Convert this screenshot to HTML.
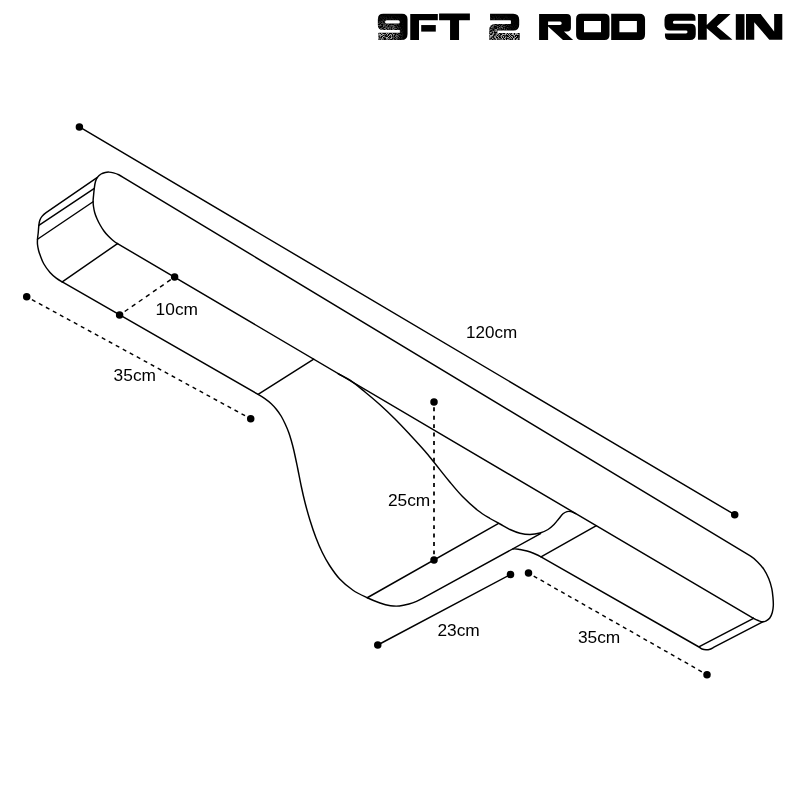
<!DOCTYPE html>
<html>
<head>
<meta charset="utf-8">
<title>9FT 2 ROD SKIN</title>
<style>
html,body{margin:0;padding:0;background:#fff;}
body{width:800px;height:800px;overflow:hidden;font-family:"Liberation Sans",sans-serif;}
svg{display:block;}
.l{fill:none;stroke:#000;stroke-width:1.45;stroke-linecap:round;stroke-linejoin:round;}
.d{fill:none;stroke:#000;stroke-width:1.45;stroke-dasharray:4.3 4.1;}
.t{font-family:"Liberation Sans",sans-serif;font-size:16.6px;fill:#000;}
</style>
</head>
<body>
<svg width="800" height="800" viewBox="0 0 800 800">
<defs><filter id="gray" x="0" y="0" width="800" height="800" filterUnits="userSpaceOnUse" color-interpolation-filters="sRGB"><feColorMatrix type="saturate" values="0"/></filter></defs>
<rect width="800" height="800" fill="#fff"/>
<!-- title -->
<g id="title" fill="#000">
<!-- 9 -->
<path id="g9" fill-rule="evenodd" d="M383.3 13.75H402Q407.55 13.75 407.55 19.3V34Q407.55 40 401.5 40H378.9Q378.3 40 378.3 39.4V33.4Q378.3 32.8 378.9 32.8H399.85V30.1H382.8Q377.85 30.1 377.85 25.1V19.2Q377.85 13.75 383.3 13.75ZM386.6 20.35Q385 20.35 385 21.9Q385 23.5 386.6 23.5H398.3Q399.85 23.5 399.85 21.9Q399.85 20.35 398.3 20.35Z"/>
<!-- F -->
<path d="M410.25 14.1H437.8V20.3H419V39.9H410.25Z"/>
<path d="M421.2 25.05H435.8V31.6H421.2Z"/>
<!-- T -->
<path d="M439.1 13.6H469.9V20.3H459.05V39.9H450.05V20.3H439.1Z"/>
<!-- 2 -->
<path id="g2" d="M490.05 13.85H513.2Q519.2 13.85 519.2 19.85V24.8Q519.2 30.6 513.4 30.6H497.5V33.1H519.75V40H489.2V30Q489.2 24 495.2 24H510.2Q510.95 24 510.95 23.2V21Q510.95 20.2 510.2 20.2H490.05Z"/>
<!-- R -->
<path fill-rule="evenodd" d="M539.1 13.95H566.9Q570.9 13.95 570.9 17.95V27.8Q570.9 31.6 567.1 31.6H563.9L573.1 39.9H563L548.1 26.4V39.9H539.1ZM548.1 21.55V25.05H560Q561.7 25.05 561.7 23.3Q561.7 21.55 560 21.55Z"/>
<!-- O -->
<path fill-rule="evenodd" d="M581.1 13.8H604.5Q609.5 13.8 609.5 18.8V34.9Q609.5 39.9 604.5 39.9H581.1Q576.1 39.9 576.1 34.9V18.8Q576.1 13.8 581.1 13.8ZM584 21.1V32.3H601V21.1Z"/>
<!-- D -->
<path fill-rule="evenodd" d="M611.2 13.8H639.5Q645.05 13.8 645.05 19.3V34.4Q645.05 39.9 639.5 39.9H611.2ZM619.4 21.1V32.3H636.9V21.1Z"/>
<!-- S -->
<path d="M670.5 13.75H691.4Q695.5 13.75 695.5 17.9V20.7H674.4Q672.9 20.7 672.9 22.2Q672.9 23.75 674.4 23.75H690.6Q695.75 23.75 695.75 28.9V34.2Q695.75 40 690 40H669.5Q664.95 40 664.95 35.5V33.4H686Q687.5 33.4 687.5 32Q687.5 30.6 686 30.6H670Q664.5 30.6 664.5 25.1V19.75Q664.5 13.75 670.5 13.75Z"/>
<!-- K -->
<path d="M697.96 13.96H706.76V25.1L718.2 13.96H730.6L716.8 26.5L732.5 39.75H720.1L706.76 28.15V39.75H697.96Z"/>
<!-- I -->
<path d="M735.8 14.1H744.5V39.8H735.8Z"/>
<!-- N -->
<path d="M746 14.1H760.7L774.15 31.6V14.1H782.3V39.8H769.3L754.25 22.2V39.8H746Z"/>
</g>
<!-- grunge texture on 9 and 2 -->
<defs>
<filter id="speck" x="370" y="8" width="160" height="40" filterUnits="userSpaceOnUse" color-interpolation-filters="sRGB">
<feTurbulence type="fractalNoise" baseFrequency="1.1" numOctaves="2" seed="5" result="n"/>
<feColorMatrix in="n" type="matrix" values="0 0 0 0 1 0 0 0 0 1 0 0 0 0 1 4.5 0 0 0 -1.85"/>
</filter>
<linearGradient id="gfade" x1="0" y1="14" x2="0" y2="40" gradientUnits="userSpaceOnUse">
<stop offset="0" stop-color="#000"/><stop offset="0.25" stop-color="#2a2a2a"/><stop offset="0.55" stop-color="#777"/><stop offset="0.8" stop-color="#b0b0b0"/><stop offset="1" stop-color="#b0b0b0"/>
</linearGradient>
<linearGradient id="hf9" x1="392" y1="0" x2="404" y2="0" gradientUnits="userSpaceOnUse">
<stop offset="0" stop-color="#000" stop-opacity="0"/><stop offset="1" stop-color="#000" stop-opacity="1"/>
</linearGradient>
<linearGradient id="hf2" x1="500" y1="0" x2="512" y2="0" gradientUnits="userSpaceOnUse">
<stop offset="0" stop-color="#000" stop-opacity="0"/><stop offset="1" stop-color="#000" stop-opacity="0.9"/>
</linearGradient>
<mask id="gmask" maskUnits="userSpaceOnUse" x="370" y="8" width="160" height="40">
<rect x="370" y="8" width="160" height="40" fill="url(#gfade)"/>
<rect x="392" y="8" width="30" height="40" fill="url(#hf9)"/>
<rect x="500" y="8" width="30" height="23.5" fill="url(#hf2)"/>
</mask>
<clipPath id="c9"><use href="#g9"/></clipPath>
<clipPath id="c2"><use href="#g2"/></clipPath>
</defs>
<g mask="url(#gmask)">
<g clip-path="url(#c9)"><rect x="370" y="8" width="160" height="40" fill="#fff" filter="url(#speck)"/></g>
<g clip-path="url(#c2)"><rect x="370" y="8" width="160" height="40" fill="#fff" filter="url(#speck)"/></g>
</g>
<!-- dimension lines -->
<line class="l" x1="79.4" y1="126.9" x2="734.7" y2="514.7"/>
<line class="l" x1="377.75" y1="645" x2="510.5" y2="574.5"/>
<line class="d" x1="26.7" y1="296.8" x2="250.7" y2="418.8" style="stroke-dasharray:4 3.956;stroke-dashoffset:2"/>
<line class="d" x1="119.6" y1="315.05" x2="174.6" y2="277" style="stroke-dasharray:4.4 4.2;stroke-dashoffset:2.4"/>
<line class="d" x1="434" y1="402" x2="434" y2="560" style="stroke-dasharray:3.9 4.52;stroke-width:1.75;stroke-dashoffset:3.1"/>
<line class="d" x1="528.5" y1="573.1" x2="707" y2="674.7" style="stroke-dasharray:4 3.894;stroke-dashoffset:1.9"/>
<!-- rod skin outline -->
<path class="l" d="M117.5 243.6C115.82 242.61 114.26 241.43 112.75 240.2C111.17 238.92 109.65 237.57 108.25 236.1C106.64 234.41 105.12 232.63 103.75 230.75C102.36 228.84 101.16 226.81 100 224.75C98.9 222.8 97.9 220.8 97 218.75C96.14 216.79 95.34 214.8 94.75 212.75C94.17 210.71 93.8 208.6 93.5 206.5C93.24 204.68 93.08 202.84 93.1 201C93.12 198.99 93.41 197 93.6 195C93.84 192.5 94.05 189.99 94.4 187.5C94.68 185.49 94.92 183.45 95.5 181.5C95.93 180.06 96.5 178.61 97.4 177.4C98.4 176.06 99.68 174.89 101.1 174C102.35 173.22 103.82 172.84 105.25 172.5C106.47 172.21 107.74 172.04 109 172.1C110.52 172.17 112.03 172.5 113.5 172.9C115.29 173.39 117.07 173.97 118.75 174.75C120.58 175.61 122.27 176.75 124 177.8L750.25 555.9C752.96 557.53 755.35 559.68 757.6 561.9C759.87 564.13 761.99 566.55 763.75 569.2C765.74 572.2 767.43 575.42 768.8 578.75C770.14 582.02 771.09 585.45 771.85 588.9C772.5 591.85 772.74 594.89 773 597.9C773.22 600.51 773.43 603.13 773.3 605.75C773.19 608.02 772.92 610.31 772.3 612.5C771.75 614.44 770.99 616.38 769.8 618C768.9 619.22 767.54 620.07 766.2 620.8C765.16 621.36 763.98 621.8 762.8 621.8C761.43 621.8 760.09 621.28 758.8 620.8C756.97 620.11 755.18 619.29 753.5 618.3"/>
<path class="l" d="M117.5 243.6L753.5 618.3"/>
<path class="l" d="M97.4 177.4L46.1 212.6C44.56 213.65 43.17 214.95 42 216.4C41.02 217.62 40.26 219.03 39.75 220.5C39.2 222.07 39.06 223.75 38.85 225.4C38.56 227.76 38.48 230.14 38.25 232.5C38.03 234.75 37.64 236.99 37.5 239.25C37.39 241 37.33 242.76 37.5 244.5C37.7 246.52 38.11 248.53 38.6 250.5C38.98 252.03 39.53 253.53 40.1 255C41.24 257.95 42.19 261 43.75 263.75C45.51 266.87 47.65 269.8 50 272.5C51.84 274.61 54.03 276.4 56.25 278.1C58.13 279.54 60.2 280.72 62.25 281.9"/>
<path class="l" d="M94 188.6L38.85 225.4"/>
<path class="l" d="M93.1 201.75L37.5 239.25"/>
<path class="l" d="M117.5 243.6L62.25 281.9"/>
<path class="l" d="M62.25 281.9L258.1 394.4C260.28 395.65 262.45 396.94 264.5 398.4C266.84 400.06 269.14 401.8 271.25 403.75C273.16 405.51 274.88 407.47 276.5 409.5C278.22 411.65 279.83 413.89 281.25 416.25C282.74 418.74 283.98 421.37 285.2 424C286.49 426.79 287.7 429.62 288.75 432.5C289.77 435.29 290.58 438.15 291.4 441C292.25 443.98 293.05 446.98 293.75 450C295.09 455.81 296.29 461.66 297.5 467.5C298.79 473.74 299.91 480.02 301.25 486.25C302.41 491.69 303.62 497.12 305 502.5C306.5 508.37 308.11 514.21 309.9 520C311.72 525.88 313.65 531.74 315.85 537.5C317.79 542.59 319.9 547.61 322.3 552.5C324.49 556.96 326.87 561.35 329.6 565.5C332.68 570.2 335.84 574.92 339.7 579C343.69 583.22 348.2 586.98 353 590.25C357.44 593.27 362.4 595.46 367.25 597.75C371.41 599.71 375.65 601.51 380 603C383.42 604.17 386.93 605.15 390.5 605.7C393.47 606.16 396.51 606.27 399.5 606C402.72 605.7 405.88 604.85 409 604C411.55 603.31 414.06 602.41 416.5 601.4C418.57 600.54 420.54 599.47 422.5 598.4L540.5 533.7"/>
<path class="l" d="M258.1 394.4L313.75 359.22"/>
<path class="l" d="M367.25 597.75L498.6 523.4"/>
<path class="l" d="M338 373.51C341.95 375.83 346.22 377.61 350 380.2C355.25 383.79 360.08 387.97 365 392C370.08 396.16 375.12 400.36 380 404.75C385.13 409.36 390.12 414.12 395 419C400.13 424.13 405.06 429.44 410 434.75C415.06 440.19 420.12 445.65 425 451.25C428.12 454.83 431.02 458.6 434 462.3C439.02 468.52 443.88 474.86 449 481C453.39 486.26 457.7 491.61 462.5 496.5C467.47 501.56 472.71 506.37 478.25 510.8C481.91 513.73 486 516.07 490 518.5C493.25 520.47 496.67 522.17 500 524C503.33 525.83 506.54 527.91 510 529.5C513.23 530.99 516.55 532.34 520 533.2C523.26 534.02 526.64 534.53 530 534.5C533.37 534.47 536.75 533.9 540 533C542.8 532.22 545.51 531.01 548 529.5C550.23 528.15 552.16 526.34 554 524.5C555.84 522.66 557.32 520.49 559 518.5C560.32 516.93 561.44 515.14 563 513.8C564.15 512.81 565.53 512 567 511.6C568.29 511.25 569.7 511.3 571 511.6C572.59 511.96 574.09 512.7 575.5 513.53"/>
<path class="l" d="M513 549C515.29 548.54 517.68 549.17 520 549.5C522.36 549.84 524.71 550.34 527 551C529.38 551.68 531.71 552.55 534 553.5C536.38 554.49 538.76 555.52 541 556.8L699 647C700.04 647.6 700.88 648.55 702 649C703.26 649.5 704.64 649.77 706 649.8C707.35 649.83 708.72 649.62 710 649.2C711.42 648.74 712.68 647.9 714 647.2L763.2 621.6"/>
<path class="l" d="M541 556.8L596.4 525.74"/>
<path class="l" d="M699.3 646.7L753.5 618.3"/>
<!-- dots -->
<g fill="#000">
<circle cx="79.4" cy="126.9" r="3.75"/>
<circle cx="734.7" cy="514.7" r="3.75"/>
<circle cx="26.7" cy="296.8" r="3.75"/>
<circle cx="250.7" cy="418.8" r="3.75"/>
<circle cx="119.6" cy="315.05" r="3.75"/>
<circle cx="174.6" cy="277" r="3.75"/>
<circle cx="434" cy="402" r="3.75"/>
<circle cx="434" cy="560" r="3.75"/>
<circle cx="377.75" cy="645" r="3.75"/>
<circle cx="510.5" cy="574.5" r="3.75"/>
<circle cx="528.5" cy="573.1" r="3.75"/>
<circle cx="707" cy="674.7" r="3.75"/>
</g>
<!-- labels -->
<g filter="url(#gray)">
<text class="t" x="155.6" y="314.6" textLength="42.4" lengthAdjust="spacingAndGlyphs">10cm</text>
<text class="t" x="113.6" y="380.6" textLength="42.4" lengthAdjust="spacingAndGlyphs">35cm</text>
<text class="t" x="466" y="337.9" textLength="51.2" lengthAdjust="spacingAndGlyphs">120cm</text>
<text class="t" x="387.9" y="506.3" textLength="42.4" lengthAdjust="spacingAndGlyphs">25cm</text>
<text class="t" x="437.4" y="636.3" textLength="42.4" lengthAdjust="spacingAndGlyphs">23cm</text>
<text class="t" x="577.9" y="642.5" textLength="42.4" lengthAdjust="spacingAndGlyphs">35cm</text>
</g>
</svg>
</body>
</html>
